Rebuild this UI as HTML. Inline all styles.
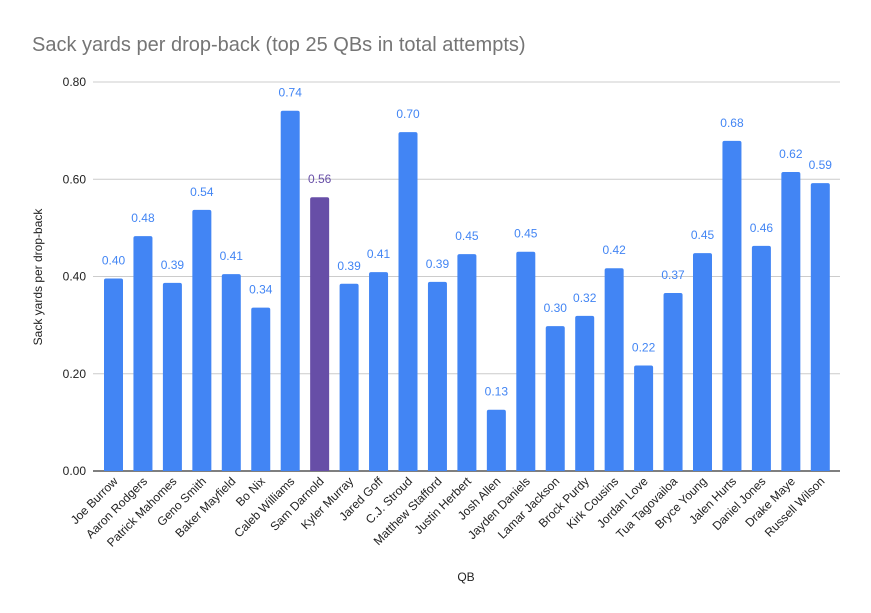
<!DOCTYPE html>
<html><head><meta charset="utf-8"><style>
body{margin:0;background:#fff}
svg{display:block;font-family:"Liberation Sans",Arial,sans-serif}
</style></head><body>
<svg id="chart" width="871" height="613">
<rect width="871" height="613" fill="#fff"/>
<text x="32" y="51" font-size="20" fill="#757575">Sack yards per drop-back (top 25 QBs in total attempts)</text>
<g id="grid"></g>
<g id="bars"></g>
<g id="xlabels"></g>
<text transform="translate(42,277) rotate(-90)" text-anchor="middle" font-size="12" fill="#222">Sack yards per drop-back</text>
<text x="466" y="581" text-anchor="middle" font-size="12" fill="#222">QB</text>
</svg>
<script>
const categories=["Joe Burrow","Aaron Rodgers","Patrick Mahomes","Geno Smith","Baker Mayfield","Bo Nix","Caleb Williams","Sam Darnold","Kyler Murray","Jared Goff","C.J. Stroud","Matthew Stafford","Justin Herbert","Josh Allen","Jayden Daniels","Lamar Jackson","Brock Purdy","Kirk Cousins","Jordan Love","Tua Tagovailoa","Bryce Young","Jalen Hurts","Daniel Jones","Drake Maye","Russell Wilson"];
const values=[0.396,0.483,0.387,0.537,0.405,0.336,0.741,0.563,0.385,0.409,0.697,0.389,0.446,0.126,0.451,0.298,0.319,0.417,0.217,0.366,0.448,0.679,0.463,0.615,0.592];
const yTicks=[0,0.2,0.4,0.6,0.8];
const highlight="Sam Darnold";
const NS="http://www.w3.org/2000/svg";
const x0=93,x1=840,yZero=471,yTop=82,yMax=0.8;
const y=v=>yZero-(v/yMax)*(yZero-yTop);
const step=29.45,first=113.5,bw=19;
const xc=i=>first+i*step;
function mk(t,a,p){const e=document.createElementNS(NS,t);for(const k in a)e.setAttribute(k,a[k]);p.appendChild(e);return e;}
const grid=document.getElementById('grid');
yTicks.forEach(t=>{
  const l=mk('line',{x1:x0,x2:x1,y1:y(t),y2:y(t),stroke:t===0?'#333':'#ccc','stroke-width':t===0?1.3:1},grid);
  
  
  const tx=mk('text',{x:86,y:y(t)+4,'text-anchor':'end','font-size':12,fill:'#222'},grid);
  tx.textContent=t.toFixed(2);
  
  
});
const bars=document.getElementById('bars'),xl=document.getElementById('xlabels');
categories.forEach((c,i)=>{
  const v=values[i],col=c===highlight?'#674ea7':'#4285f4';
  const r=mk('path',{d:`M${xc(i)-bw/2},${yZero}V${y(v)+2}q0,-2 2,-2h${bw-4}q2,0 2,2V${yZero}Z`,fill:col},bars);
  
  
  const t=mk('text',{x:xc(i),y:y(v)-14,'text-anchor':'middle','font-size':12,fill:col},bars);
  t.textContent=(Math.round(v*100)/100).toFixed(2);
  
  
  const lx=xc(i)+5,ly=482;
  const lt=mk('text',{x:lx,y:ly,'text-anchor':'end','font-size':12,fill:'#222',transform:`rotate(-45 ${lx} ${ly})`},xl);
  lt.textContent=c;
  
  
});
</script>
</body></html>
